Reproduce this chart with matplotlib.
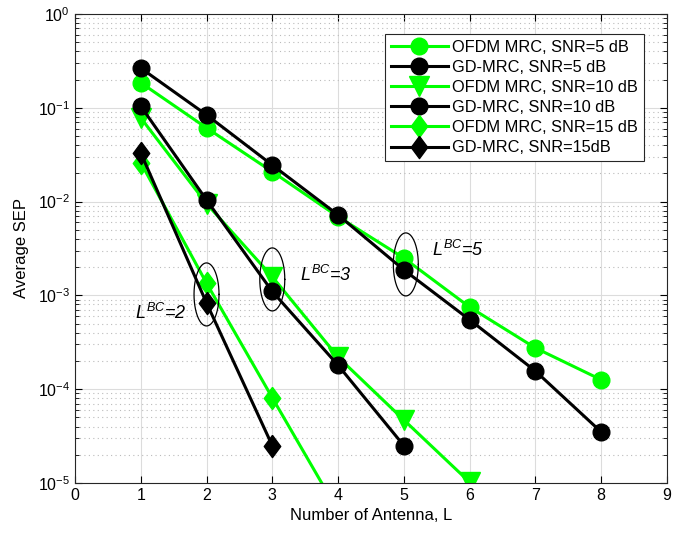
import numpy as np
import matplotlib
matplotlib.use('Agg')
import matplotlib.pyplot as plt
from matplotlib.ticker import LogLocator, NullFormatter

plt.rcParams['font.family'] = ['Liberation Sans', 'DejaVu Sans']
plt.rcParams['mathtext.fontset'] = 'custom'
plt.rcParams['mathtext.rm'] = 'Liberation Sans'
plt.rcParams['mathtext.it'] = 'Liberation Sans:italic'

# data
L5 = [1, 2, 3, 4, 5, 6, 7, 8]
ofdm_snr5 = [0.185, 0.061, 0.0208, 0.0069, 0.0025, 7.5e-4, 2.75e-4, 1.26e-4]
gd_snr5 = [0.265, 0.084, 0.0245, 0.0072, 1.87e-3, 5.5e-4, 1.56e-4, 3.5e-5]

L10_ofdm = [1, 2, 3, 4, 5, 6]
ofdm_snr10 = [0.078, 0.0095, 1.58e-3, 2.2e-4, 4.7e-5, 1.02e-5]
L10_gd = [1, 2, 3, 4, 5]
gd_snr10 = [0.104, 0.0104, 1.1e-3, 1.8e-4, 2.5e-5]

L15_ofdm = [1, 2, 3, 4]
ofdm_snr15 = [0.026, 1.35e-3, 8.1e-5, 5.0e-6]
L15_gd = [1, 2, 3]
gd_snr15 = [0.033, 8.3e-4, 2.5e-5]

# ellipse annotations
ell_x = [2, 3, 5.03]
ell_logy = [-2.99, -2.83, -2.67]
lab_x = [0.92, 3.42, 5.43]
lab_y = [10**-3.19, 10**-2.78, 10**-2.52]
lab_txt = ['$L^{BC}$=2', '$L^{BC}$=3', '$L^{BC}$=5']

green = '#00FF00'
lw = 2.2
ms_c = 12
ms_t = 14
ms_d = 16
# MATLAB style diamond, a bit taller than wide
diamond = [(0, 1), (0.74, 0), (0, -1), (-0.74, 0), (0, 1)]

fig = plt.figure(figsize=(6.73, 5.37), dpi=100)
ax = fig.add_axes([0.1114, 0.1006, 0.8796, 0.8734])

ax.semilogy(L5, ofdm_snr5, '-o', color=green, lw=lw, ms=ms_c, label='OFDM MRC, SNR=5 dB')
ax.semilogy(L5, gd_snr5, '-o', color='k', lw=lw, ms=ms_c, label='GD-MRC, SNR=5 dB')
ax.semilogy(L10_ofdm, ofdm_snr10, '-v', color=green, lw=lw, ms=ms_t, label='OFDM MRC, SNR=10 dB')
ax.semilogy(L10_gd, gd_snr10, '-o', color='k', lw=lw, ms=ms_c, label='GD-MRC, SNR=10 dB')
ax.semilogy(L15_ofdm, ofdm_snr15, '-', marker=diamond, color=green, lw=lw, ms=ms_d, label='OFDM MRC, SNR=15 dB')
ax.semilogy(L15_gd, gd_snr15, '-', marker=diamond, color='k', lw=lw, ms=ms_d, label='GD-MRC, SNR=15dB')

t = np.linspace(0, 2 * np.pi, 200)
for cx, cy in zip(ell_x, ell_logy):
    ax.plot(cx + 0.19 * np.cos(t), 10 ** (cy + 0.336 * np.sin(t)), color='k', lw=0.9)
for x, y, s in zip(lab_x, lab_y, lab_txt):
    ax.text(x, y, s, fontsize=13, style='italic', va='center', ha='left')

ax.set_xlim(0, 9)
ax.set_ylim(1e-5, 1)
ax.set_xticks(range(0, 10))
ax.yaxis.set_major_locator(LogLocator(base=10, numticks=10))
ax.yaxis.set_minor_locator(LogLocator(base=10, subs=np.arange(2, 10), numticks=10))
ax.yaxis.set_minor_formatter(NullFormatter())

ax.grid(True, which='major', color='#dcdcdc', lw=0.8, ls='-')
ax.grid(True, which='minor', axis='y', color='#bbbbbb', lw=0.8, ls=(0, (1, 3)))
ax.set_axisbelow(True)
ax.tick_params(which='both', direction='in', top=True, right=True, labelsize=11.5)
ax.tick_params(which='major', length=5)
ax.tick_params(which='minor', length=3)
for sp in ax.spines.values():
    sp.set_color('#262626')

ax.set_xlabel('Number of Antenna, L', fontsize=12)
ax.set_ylabel('Average SEP', fontsize=12, labelpad=6)

leg = ax.legend(loc='upper right', bbox_to_anchor=(0.961, 0.957), fontsize=11.8,
                handlelength=3.5, fancybox=False, framealpha=1, edgecolor='#262626',
                borderpad=0.35, labelspacing=0.31, handletextpad=0.25, borderaxespad=0)
leg.get_frame().set_linewidth(0.8)

fig.savefig('out.png', dpi=100)
